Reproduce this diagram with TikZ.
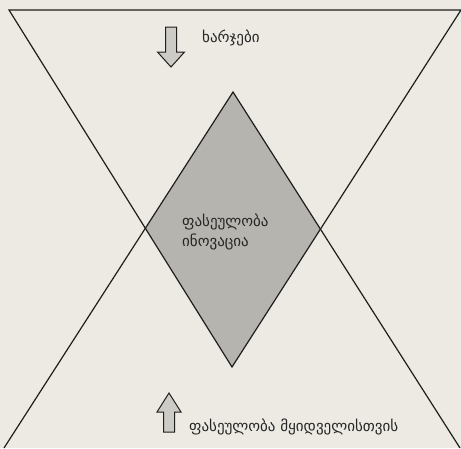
\documentclass[tikz,border=0pt]{standalone}
\usepackage{fontspec}
\newfontfamily\geofont{DejaVu Sans}
\usetikzlibrary{positioning,calc}

\definecolor{paper}{RGB}{236,234,227}
\definecolor{diamondgray}{RGB}{182,180,174}
\definecolor{arrowgray}{RGB}{205,203,197}
\definecolor{inkline}{RGB}{30,30,30}

\begin{document}
\begin{tikzpicture}[
    x=1pt, y=-1pt,
    font=\geofont\fontsize{15}{18}\selectfont,
    edge/.style={draw=inkline, line width=1.2pt, line join=miter},
    blockarr/.style={draw=inkline, line width=1pt, fill=arrowgray, line join=miter},
    label/.style={anchor=west, inner sep=0pt, align=left, text=black!85}
  ]

  % ========= frame =========
  \fill[paper] (0,0) rectangle (461,448);
  \useasboundingbox (0,0) rectangle (461,448);

  % ========= corners of the two triangles =========
  \coordinate (costTL)  at (9,10);
  \coordinate (costTR)  at (461,10);
  \coordinate (costtip) at (232,367);
  \coordinate (valBL)   at (4,448);
  \coordinate (valBR)   at (460,448);
  \coordinate (valtip)  at (233,92);

  % ========= overlap (value innovation) =========
  \begin{scope}
    \clip (costTL) -- (costTR) -- (costtip) -- cycle;
    \fill[diamondgray] (valBL) -- (valtip) -- (valBR) -- cycle;
  \end{scope}

  % ========= triangles =========
  \draw[edge] (costtip) -- (costTL) -- (costTR) -- cycle;
  \draw[edge] (valBL) -- (valtip) -- (valBR);

  % ========= block arrows =========
  \coordinate (costarr) at (171,27);
  \draw[blockarr] (costarr) ++(-5.5,0) -- ++(11,0) -- ++(0,25) -- ++(8,0)
    -- ++(-13.5,15) -- ++(-13.5,-15) -- ++(8,0) -- cycle;
  \coordinate (valarr) at (169,432);
  \draw[blockarr] (valarr) ++(-5.5,0) -- ++(11,0) -- ++(0,-20) -- ++(6.5,0)
    -- ++(-12,-19) -- ++(-12,19) -- ++(6.5,0) -- cycle;

  % ========= labels =========
  \node[label] (costs) at (202,38) {ხარჯები};
  \node[label] (innov) at (182,232) {ფასეულობა\\[2pt]ინოვაცია};
  \node[label] (buyer) at (189,427) {ფასეულობა მყიდველისთვის};

\end{tikzpicture}
\end{document}
